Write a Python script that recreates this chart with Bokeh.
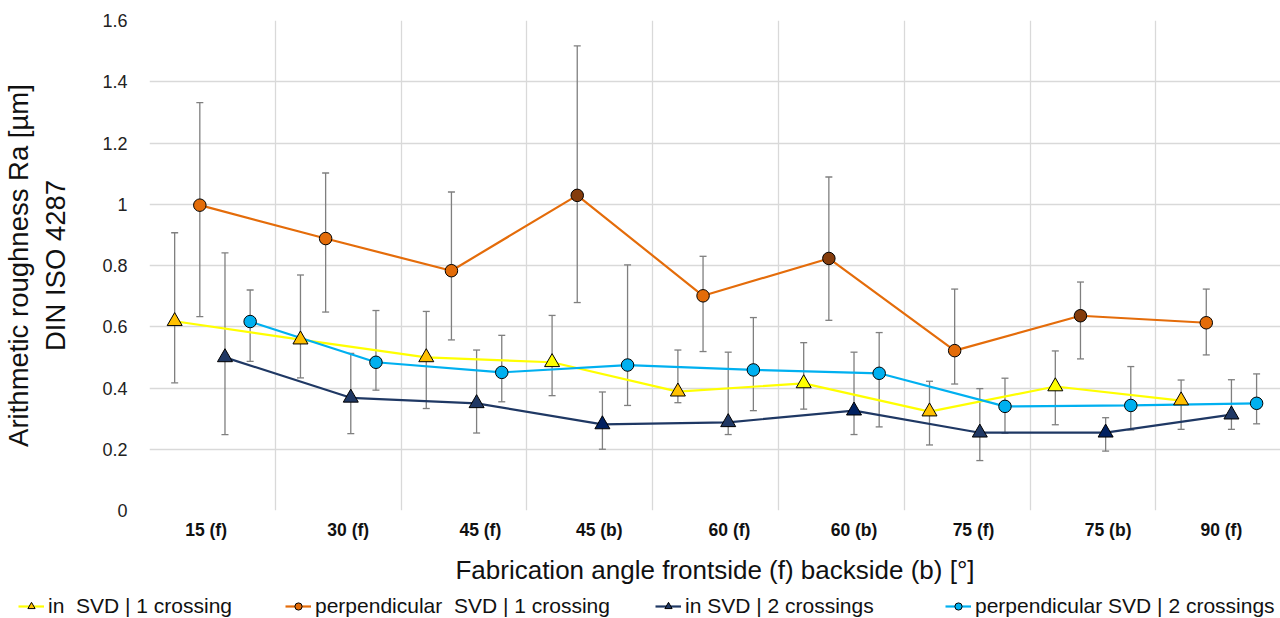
from bokeh.plotting import figure
from bokeh.models import (ColumnDataSource, Range1d, FixedTicker, Whisker, TeeHead,
                          Legend, LegendItem, CustomJSTickFormatter)
from bokeh.embed import file_html
from bokeh.resources import INLINE

# ---------------- data ----------------
categories = ["15 (f)", "30 (f)", "45 (f)", "45 (b)", "60 (f)", "60 (b)", "75 (f)", "75 (b)", "90 (f)"]
series_names = ["in  SVD | 1 crossing", "perpendicular  SVD | 1 crossing",
                "in SVD | 2 crossings", "perpendicular SVD | 2 crossings"]
y_ticks = [0, 0.2, 0.4, 0.6, 0.8, 1.0, 1.2, 1.4, 1.6]

in1_mean = [0.618, 0.558, 0.500, 0.484, 0.388, 0.415, 0.323, 0.405, 0.359]
in1_upper = [0.907, 0.769, 0.650, 0.637, 0.524, 0.548, 0.422, 0.521, 0.426]
in1_lower = [0.417, 0.433, 0.333, 0.375, 0.352, 0.331, 0.214, 0.280, 0.265]

perp1_mean = [0.997, 0.888, 0.783, 1.029, 0.701, 0.823, 0.522, 0.636, 0.613]
perp1_upper = [1.332, 1.102, 1.040, 1.517, 0.830, 1.089, 0.723, 0.746, 0.723]
perp1_lower = [0.633, 0.648, 0.557, 0.679, 0.519, 0.621, 0.413, 0.495, 0.508]

in2_mean = [0.500, 0.368, 0.350, 0.281, 0.288, 0.326, 0.254, 0.254, 0.313]
in2_upper = [0.841, 0.513, 0.524, 0.387, 0.517, 0.517, 0.398, 0.303, 0.427]
in2_lower = [0.248, 0.251, 0.253, 0.200, 0.248, 0.248, 0.163, 0.194, 0.265]

perp2_mean = [0.617, 0.484, 0.451, 0.475, 0.459, 0.448, 0.340, 0.343, 0.350]
perp2_upper = [0.720, 0.653, 0.572, 0.802, 0.630, 0.581, 0.432, 0.470, 0.446]
perp2_lower = [0.487, 0.393, 0.355, 0.343, 0.326, 0.273, 0.252, 0.263, 0.283]

# ---------------- layout / style ----------------
FONT = "Liberation Sans"
series_offsets = [0.2, 0.4, 0.6, 0.8]
label_offsets = [0.45, 0.58, 0.63, 0.575, 0.61, 0.6, 0.55, 0.62, 0.52]
line_colors = ["#FFFF00", "#E46C0A", "#1F3864", "#00B0F0"]
front_fill = ["#FFC000", "#E36C09", "#203864", "#00B0F0"]
back_fill = ["#FFFF00", "#843C0C", "#002060", "#00B0F0"]
markers = ["triangle", "circle", "triangle", "circle"]
marker_sizes = [15, 12.5, 15, 12.5]
legend_x = [18, 285, 655, 945]

series = [
    (in1_mean, in1_upper, in1_lower),
    (perp1_mean, perp1_upper, perp1_lower),
    (in2_mean, in2_upper, in2_lower),
    (perp2_mean, perp2_upper, perp2_lower),
]

p = figure(width=1280, height=590, output_backend="svg", toolbar_location=None,
           x_range=Range1d(0, 8.99), y_range=Range1d(0, 1.6),
           min_border_left=141, min_border_right=0, min_border_top=20, min_border_bottom=80)
p.outline_line_color = None
p.background_fill_color = "white"
p.border_fill_color = "white"

# grids
p.xgrid.ticker = FixedTicker(ticks=list(range(10)))
p.ygrid.ticker = FixedTicker(ticks=[t for t in y_ticks if t > 0])
for g in (p.xgrid, p.ygrid):
    g.grid_line_color = "#D9D9D9"
    g.grid_line_width = 1.3

# x axis
label_pos = [i + off for i, off in enumerate(label_offsets)]
xa = p.xaxis[0]
xa.ticker = FixedTicker(ticks=label_pos)
xa.formatter = CustomJSTickFormatter(args=dict(pos=label_pos, labels=categories), code="""
let best = 0;
for (let i = 0; i < pos.length; i++) {
  if (Math.abs(pos[i] - tick) < Math.abs(pos[best] - tick)) best = i;
}
return labels[best];
""")
xa.axis_line_color = None
xa.major_tick_line_color = None
xa.minor_tick_line_color = None
xa.major_label_text_font = FONT
xa.major_label_text_font_style = "bold"
xa.major_label_text_font_size = "17.5px"
xa.major_label_text_color = "#111111"
xa.major_label_standoff = 3
xa.axis_label = "Fabrication angle frontside (f) backside (b) [°]"
xa.axis_label_text_font = FONT
xa.axis_label_text_font_style = "normal"
xa.axis_label_text_font_size = "26px"
xa.axis_label_text_color = "#111111"
xa.axis_label_standoff = 12

# y axis
ya = p.yaxis[0]
ya.ticker = FixedTicker(ticks=y_ticks)
ya.formatter = CustomJSTickFormatter(code=r"return tick.toFixed(1).replace(/\.0$/, '');")
ya.axis_line_color = None
ya.major_tick_line_color = None
ya.minor_tick_line_color = None
ya.major_label_text_font = FONT
ya.major_label_text_font_size = "18px"
ya.major_label_text_color = "#222222"
ya.major_label_standoff = 16
ya.axis_label = "Arithmetic roughness Ra [µm]\nDIN ISO 4287"
ya.axis_label_text_font = FONT
ya.axis_label_text_font_style = "normal"
ya.axis_label_text_font_size = "27.5px"
ya.axis_label_text_color = "#111111"
ya.axis_label_standoff = 28

sources = []
for k, (mean, upper, lower) in enumerate(series):
    xs = [i + series_offsets[k] for i in range(len(categories))]
    fills = [back_fill[k] if "(b)" in c else front_fill[k] for c in categories]
    src = ColumnDataSource(dict(x=xs, y=mean, upper=upper, lower=lower, fill=fills))
    sources.append(src)
    p.line("x", "y", source=src, line_color=line_colors[k], line_width=2.2)

for k, src in enumerate(sources):
    w = Whisker(base="x", upper="upper", lower="lower", source=src,
                line_color="#7F7F7F", line_width=1.3, level="underlay",
                upper_head=TeeHead(size=7, line_color="#7F7F7F", line_width=1.3),
                lower_head=TeeHead(size=7, line_color="#7F7F7F", line_width=1.3))
    p.add_layout(w)

for k, src in enumerate(sources):
    p.scatter("x", "y", source=src, marker=markers[k], size=marker_sizes[k],
              fill_color="fill", line_color="black", line_width=1)

# ---------------- legend strip (separate root, full-width frame) ----------------
lf = figure(width=1280, height=28, output_backend="svg", toolbar_location=None,
            x_range=Range1d(0, 1), y_range=Range1d(0, 1),
            x_axis_location=None, y_axis_location=None,
            min_border_left=0, min_border_right=0, min_border_top=0, min_border_bottom=0)
lf.outline_line_color = None
lf.xgrid.visible = False
lf.ygrid.visible = False
lf.border_fill_color = "white"
for k in range(4):
    dummy = ColumnDataSource(dict(x=[-5.0], y=[-5.0]))
    lr = lf.line("x", "y", source=dummy, line_color=line_colors[k], line_width=2.2)
    sr = lf.scatter("x", "y", source=dummy, marker=markers[k], size=marker_sizes[k],
                    fill_color=front_fill[k], line_color="black", line_width=1)
    leg = Legend(items=[LegendItem(label=series_names[k], renderers=[lr, sr])],
                 location=(legend_x[k], 0), orientation="horizontal",
                 padding=0, margin=0, border_line_color=None, background_fill_alpha=0,
                 label_text_font=FONT, label_text_font_size="21px", label_text_color="#111111",
                 glyph_width=26, glyph_height=18, label_standoff=4)
    lf.add_layout(leg)

open("out.html", "w").write(file_html([p, lf], INLINE))
